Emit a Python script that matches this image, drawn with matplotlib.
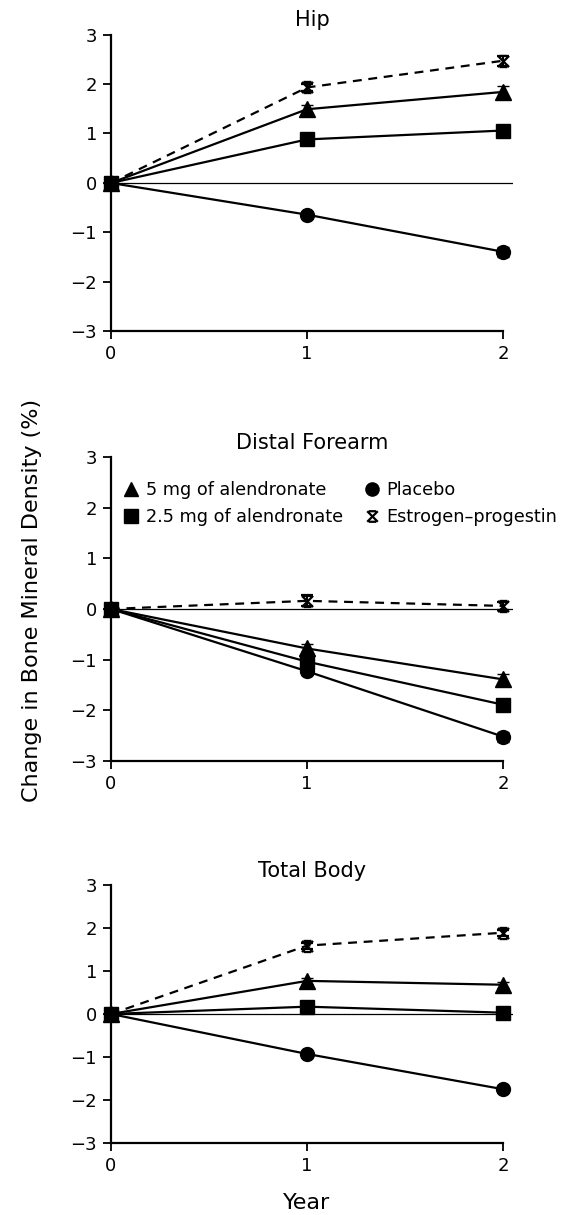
import numpy as np
import matplotlib
matplotlib.use('Agg')
import matplotlib.pyplot as plt
from matplotlib.path import Path
from matplotlib.lines import Line2D

plt.rcParams['font.family'] = ['DejaVu Sans']

# -------------- Data ----------------
years = [0, 1, 2]
panels = ["Hip", "Distal Forearm", "Total Body"]

hip_5mg = [0, 1.49, 1.84]
hip_25mg = [0, 0.88, 1.06]
hip_placebo = [0, -0.64, -1.39]
hip_estrogen = [0, 1.93, 2.47]
hip_5mg_err = [0, 0.08, 0.12]
hip_25mg_err = [0, 0.07, 0.08]
hip_placebo_err = [0, 0.06, 0.1]
hip_estrogen_err = [0, 0.08, 0.1]

arm_5mg = [0, -0.78, -1.39]
arm_25mg = [0, -1.04, -1.89]
arm_placebo = [0, -1.23, -2.52]
arm_estrogen = [0, 0.16, 0.06]
arm_5mg_err = [0, 0.08, 0.1]
arm_25mg_err = [0, 0.08, 0.08]
arm_placebo_err = [0, 0.08, 0.1]
arm_estrogen_err = [0, 0.11, 0.08]

tb_5mg = [0, 0.77, 0.68]
tb_25mg = [0, 0.17, 0.03]
tb_placebo = [0, -0.93, -1.75]
tb_estrogen = [0, 1.59, 1.89]
tb_5mg_err = [0, 0.07, 0.07]
tb_25mg_err = [0, 0.06, 0.06]
tb_placebo_err = [0, 0.07, 0.07]
tb_estrogen_err = [0, 0.07, 0.07]

labels = ["5 mg of alendronate", "2.5 mg of alendronate", "Placebo", "Estrogen\u2013progestin"]

data = [
    (hip_5mg, hip_25mg, hip_placebo, hip_estrogen,
     hip_5mg_err, hip_25mg_err, hip_placebo_err, hip_estrogen_err),
    (arm_5mg, arm_25mg, arm_placebo, arm_estrogen,
     arm_5mg_err, arm_25mg_err, arm_placebo_err, arm_estrogen_err),
    (tb_5mg, tb_25mg, tb_placebo, tb_estrogen,
     tb_5mg_err, tb_25mg_err, tb_placebo_err, tb_estrogen_err),
]

# X with little bars top and bottom, like the estrogen symbol
xbar = Path(
    [(-1, -1), (1, 1), (-1, 1), (1, -1), (-0.7, 1), (0.7, 1), (-0.7, -1), (0.7, -1)],
    [Path.MOVETO, Path.LINETO, Path.MOVETO, Path.LINETO,
     Path.MOVETO, Path.LINETO, Path.MOVETO, Path.LINETO])

styles = [
    dict(marker='^', ms=11, ls='-', z=3),
    dict(marker='s', ms=10, ls='-', z=5),
    dict(marker='o', ms=10, ls='-', z=3),
    dict(marker=xbar, ms=8, ls=(0, (4, 3)), mew=1.6, z=4),
]

# -------------- Figure ----------------
fig = plt.figure(figsize=(5.63, 12.15), dpi=100)
rects = [
    [0.197, 0.7272, 0.714, 0.2444],
    [0.197, 0.3737, 0.714, 0.2502],
    [0.197, 0.0593, 0.714, 0.2123],
]

for k, (title, rect) in enumerate(zip(panels, rects)):
    ax = fig.add_axes(rect)
    series = data[k][:4]
    errs = data[k][4:]
    ax.axhline(0, color='black', lw=0.9, zorder=1)
    for vals, err, st in zip(series, errs, styles):
        ax.errorbar(years, vals, yerr=err, color='black', lw=1.6,
                    ls=st['ls'], marker=st['marker'], ms=st['ms'],
                    mew=st.get('mew', 1), capsize=4, capthick=1.5,
                    elinewidth=1.5, clip_on=False, zorder=st['z'])
    ax.set_xlim(0, 2.05)
    ax.set_ylim(-3, 3)
    ax.set_xticks(years)
    ax.set_yticks([-3, -2, -1, 0, 1, 2, 3])
    for s in ['top', 'right']:
        ax.spines[s].set_visible(False)
    ax.spines['left'].set_linewidth(1.6)
    ax.spines['bottom'].set_linewidth(1.6)
    ax.spines['bottom'].set_bounds(0, 2)
    ax.tick_params(length=6, width=1.3, labelsize=13, pad=4)
    ax.set_title(title, fontsize=15, pad=6)

    if k == 1:
        handles = [Line2D([], [], color='black', ls='none', marker=st['marker'],
                          ms=st['ms'] * 0.95, mew=st.get('mew', 1)) for st in styles]
        ax.legend(handles, labels, ncol=2, frameon=False, fontsize=12.7,
                  loc='upper left', bbox_to_anchor=(0.0, 0.96),
                  handlelength=0.9, handletextpad=0.4, columnspacing=1.15,
                  labelspacing=0.5, borderaxespad=0.3)

fig.text(32 / 563, 1 - 600 / 1215, "Change in Bone Mineral Density (%)",
         rotation=90, ha='center', va='center', fontsize=16)
fig.text(0.197 + 0.714 * 1 / 2.05, 1 - 1203 / 1215, "Year",
         ha='center', va='center', fontsize=16)

fig.savefig('out.png', dpi=100)
